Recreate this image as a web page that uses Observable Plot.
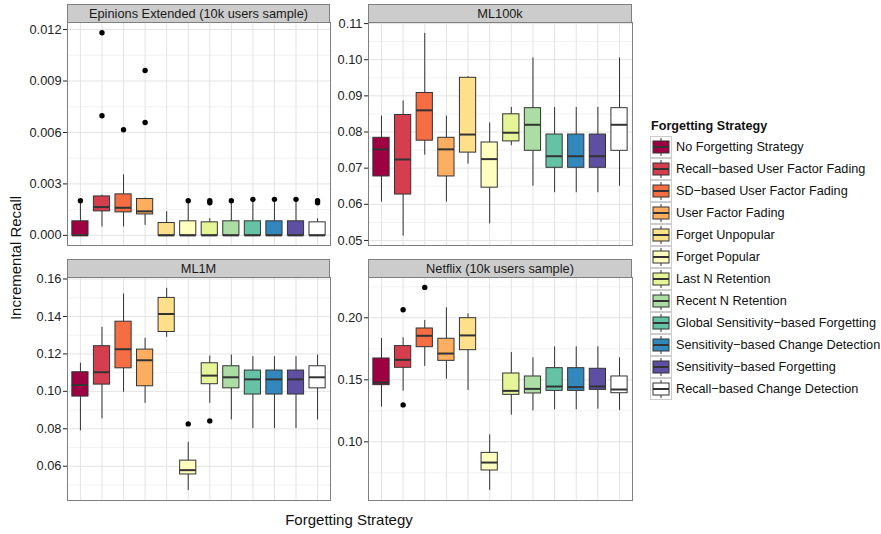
<!DOCTYPE html>
<html><head><meta charset="utf-8">
<script src="https://cdn.jsdelivr.net/npm/d3@7"></script>
<script src="https://cdn.jsdelivr.net/npm/@observablehq/plot@0.6"></script>
<style>
body{margin:0;background:#fff;font-family:"Liberation Sans",Arial,Helvetica,sans-serif;}
#chart{position:relative;width:881px;height:534px;overflow:hidden;}
.strip{position:absolute;box-sizing:border-box;background:#CCCCCC;border:1px solid #7F7F7F;font-size:12.8px;color:#1a1a1a;text-align:center;line-height:17px;white-space:nowrap;}
.panel{position:absolute;}
.axtitle{position:absolute;font-size:15px;color:#111;white-space:nowrap;}
.legtitle{position:absolute;font-size:12.6px;font-weight:bold;color:#111;white-space:nowrap;}
.leglab{position:absolute;font-size:12.7px;color:#111;white-space:nowrap;line-height:14px;}
</style>
</head><body>
<div id="chart"></div>
<script>
const strategies = ["No Forgetting Strategy","Recall\u2212based User Factor Fading","SD\u2212based User Factor Fading","User Factor Fading","Forget Unpopular","Forget Popular","Last N Retention","Recent N Retention","Global Sensitivity\u2212based Forgetting","Sensitivity\u2212based Change Detection","Sensitivity\u2212based Forgetting","Recall\u2212based Change Detection"];
const colors = ["#9E0142","#D53E4F","#F46D43","#FDAE61","#FEE08B","#FFFFBF","#E6F598","#ABDDA4","#66C2A5","#3288BD","#5E4FA2","#FFFFFF"];
const panelTitles = ["Epinions Extended (10k users sample)","ML100k","ML1M","Netflix (10k users sample)"];

// five-number summaries per strategy: [lower whisker, q1, median, q3, upper whisker]
const epinions = [
 [0,0,0,0.00082,0.00195],
 [0.00049,0.0014,0.00165,0.00227,0.00235],
 [0.00049,0.00134,0.00161,0.00239,0.00353],
 [0.00058,0.00122,0.0014,0.00212,0.00217],
 [0,0,0,0.00072,0.00138],
 [0,0,0,0.00082,0.00195],
 [0,0,0,0.00076,0.00097],
 [0,0,0,0.00082,0.00195],
 [0,0,0,0.00082,0.002],
 [0,0,0,0.00082,0.002],
 [0,0,0,0.00082,0.002],
 [0,0,0,0.00076,0.00097]
];
const epinionsOut = [[0,0.00202],[1,0.01181],[1,0.00697],[2,0.00616],[3,0.00961],[3,0.00658],[5,0.00202],[6,0.00202],[6,0.0019],[7,0.00202],[8,0.0021],[9,0.0021],[10,0.0021],[11,0.00202],[11,0.0019]];

const ml100k = [
 [0.0606,0.0677,0.0752,0.0784,0.0844],
 [0.0512,0.0627,0.0724,0.0847,0.0886],
 [0.0736,0.0776,0.0860,0.0908,0.1073],
 [0.0606,0.0677,0.0752,0.0784,0.0844],
 [0.0711,0.0743,0.0793,0.0950,0.0953],
 [0.0546,0.0646,0.0725,0.0771,0.0825],
 [0.0762,0.0774,0.0798,0.0849,0.0868],
 [0.0650,0.0748,0.0820,0.0866,0.1005],
 [0.0632,0.0701,0.0733,0.0793,0.0868],
 [0.0632,0.0701,0.0733,0.0793,0.0868],
 [0.0632,0.0701,0.0733,0.0793,0.0868],
 [0.0650,0.0748,0.0820,0.0866,0.1005]
];
const ml100kOut = [];

const ml1m = [
 [0.0789,0.0972,0.1034,0.1102,0.1150],
 [0.0853,0.1036,0.1102,0.1241,0.1342],
 [0.0995,0.1123,0.1225,0.1372,0.1520],
 [0.0936,0.1027,0.1166,0.1223,0.1283],
 [0.1289,0.1317,0.1413,0.1499,0.1550],
 [0.0470,0.0556,0.0579,0.0630,0.0728],
 [0.0936,0.1038,0.1084,0.1150,0.1189],
 [0.0847,0.1016,0.1075,0.1134,0.1194],
 [0.0801,0.0983,0.1064,0.1111,0.1185],
 [0.0801,0.0983,0.1064,0.1111,0.1185],
 [0.0801,0.0983,0.1064,0.1111,0.1185],
 [0.0847,0.1016,0.1075,0.1134,0.1194]
];
const ml1mOut = [[5,0.0826],[6,0.0842]];

const netflix = [
 [0.1280,0.1457,0.1478,0.1672,0.1833],
 [0.1409,0.1597,0.1661,0.1772,0.1839],
 [0.1608,0.1763,0.1855,0.1914,0.1978],
 [0.1505,0.1653,0.1712,0.1831,0.2081],
 [0.1414,0.1739,0.1858,0.1997,0.2032],
 [0.0608,0.0769,0.0833,0.0911,0.1056],
 [0.1215,0.1379,0.1411,0.1551,0.1720],
 [0.1250,0.1390,0.1427,0.1527,0.1677],
 [0.1258,0.1411,0.1446,0.1594,0.1766],
 [0.1258,0.1411,0.1441,0.1594,0.1766],
 [0.1263,0.1419,0.1446,0.1589,0.1766],
 [0.1253,0.1392,0.1422,0.1527,0.1677]
];
const netflixOut = [[1,0.2065],[1,0.1298],[2,0.2245]];

// axis ticks
const epinionsTicks = [0,0.003,0.006,0.009,0.012];
const epinionsMinor = [0.0015,0.0045,0.0075,0.0105];
const ml100kTicks = [0.05,0.06,0.07,0.08,0.09,0.10,0.11];
const ml100kMinor = [0.055,0.065,0.075,0.085,0.095,0.105];
const ml1mTicks = [0.06,0.08,0.10,0.12,0.14,0.16];
const ml1mMinor = [0.05,0.07,0.09,0.11,0.13,0.15];
const netflixTicks = [0.10,0.15,0.20];
const netflixMinor = [0.075,0.125,0.175,0.225];

const chart = document.getElementById("chart");
const FONT = '"Liberation Sans",Arial,Helvetica,sans-serif';

function drawPanel(title, stats, outs, yDomain, majors, minors, fmt, px, py, pw, ph) {
  const rows = strategies.map((s,i)=>({s, lo:stats[i][0], q1:stats[i][1], med:stats[i][2], q3:stats[i][3], hi:stats[i][4]}));
  const pts = outs.map(([i,v])=>({s:strategies[i], v}));
  const ML=50, MR=1, MT=1, MB=1;
  const svg = Plot.plot({
    width: ML+pw+MR, height: MT+ph+MB,
    marginLeft: ML, marginRight: MR, marginTop: MT, marginBottom: MB,
    style: {fontSize:"12.8px", fontFamily:FONT, color:"#222", background:"transparent", overflow:"visible"},
    x: {type:"band", domain: strategies, paddingInner:0.25, paddingOuter:0.225, round:false, axis:null},
    y: {domain: yDomain, ticks: majors, tickFormat: d3.format(fmt), tickSize:4, tickPadding:2, label:null},
    color: {domain: strategies, range: colors},
    marks: [
      Plot.ruleY(minors, {stroke:"#F2F2F2", strokeWidth:1}),
      Plot.ruleY(majors, {stroke:"#E3E3E3", strokeWidth:1}),
      Plot.ruleX(strategies, {stroke:"#E3E3E3", strokeWidth:1}),
      Plot.ruleX(rows, {x:"s", y1:"lo", y2:"q1", stroke:"#333", strokeWidth:1}),
      Plot.ruleX(rows, {x:"s", y1:"q3", y2:"hi", stroke:"#333", strokeWidth:1}),
      Plot.barY(rows, {x:"s", y1:"q1", y2:"q3", fill:"s", stroke:"#333", strokeWidth:1}),
      Plot.tickY(rows, {x:"s", y:"med", stroke:"#333", strokeWidth:2}),
      Plot.dot(pts, {x:"s", y:"v", r:2.7, fill:"#000", stroke:"none"}),
      Plot.frame({stroke:"#7F7F7F", strokeWidth:1})
    ]
  });
  svg.classList.add("panel");
  svg.style.left = (px-ML)+"px";
  svg.style.top = (py-MT)+"px";
  chart.appendChild(svg);
  const st = document.createElement("div");
  st.className = "strip";
  st.textContent = title;
  st.style.left = px+"px"; st.style.top = (py-18)+"px";
  st.style.width = pw+"px"; st.style.height = "19px";
  chart.appendChild(st);
}

drawPanel(panelTitles[0], epinions, epinionsOut, [-0.00059,0.01241], epinionsTicks, epinionsMinor, ".3f", 67, 22, 263, 223);
drawPanel(panelTitles[1], ml100k, ml100kOut, [0.0486,0.1103], ml100kTicks, ml100kMinor, ".2f", 368, 22, 264, 223);
drawPanel(panelTitles[2], ml1m, ml1mOut, [0.0417,0.1608], ml1mTicks, ml1mMinor, ".2f", 67, 277, 263, 223);
drawPanel(panelTitles[3], netflix, netflixOut, [0.0527,0.2325], netflixTicks, netflixMinor, ".2f", 368, 277, 264, 223);

// axis titles
const xt = document.createElement("div");
xt.className = "axtitle"; xt.textContent = "Forgetting Strategy";
xt.style.left = "349px"; xt.style.top = "511px"; xt.style.transform = "translateX(-50%)";
chart.appendChild(xt);
const yt = document.createElement("div");
yt.className = "axtitle"; yt.textContent = "Incremental Recall";
yt.style.left = "15px"; yt.style.top = "258px"; yt.style.transform = "translate(-50%,-50%) rotate(-90deg)";
chart.appendChild(yt);

// legend
const lt = document.createElement("div");
lt.className = "legtitle"; lt.textContent = "Forgetting Strategy";
lt.style.left = "651px"; lt.style.top = "119px";
chart.appendChild(lt);
strategies.forEach((s,i)=>{
  const y0 = 136 + 22*i;
  const k = d3.create("svg").attr("width",22).attr("height",22)
    .style("position","absolute").style("left","650px").style("top",y0+"px");
  k.append("rect").attr("x",0.5).attr("y",0.5).attr("width",21).attr("height",21).attr("fill","#fff").attr("stroke","#CCCCCC");
  k.append("line").attr("x1",11).attr("x2",11).attr("y1",2).attr("y2",20).attr("stroke","#333");
  k.append("rect").attr("x",3).attr("y",5).attr("width",16).attr("height",12).attr("fill",colors[i]).attr("stroke","#333");
  k.append("line").attr("x1",3).attr("x2",19).attr("y1",11).attr("y2",11).attr("stroke","#333").attr("stroke-width",2);
  chart.appendChild(k.node());
  const lab = document.createElement("div");
  lab.className = "leglab"; lab.textContent = s;
  lab.style.left = "676px"; lab.style.top = (y0+4)+"px";
  chart.appendChild(lab);
});
</script>
</body></html>
